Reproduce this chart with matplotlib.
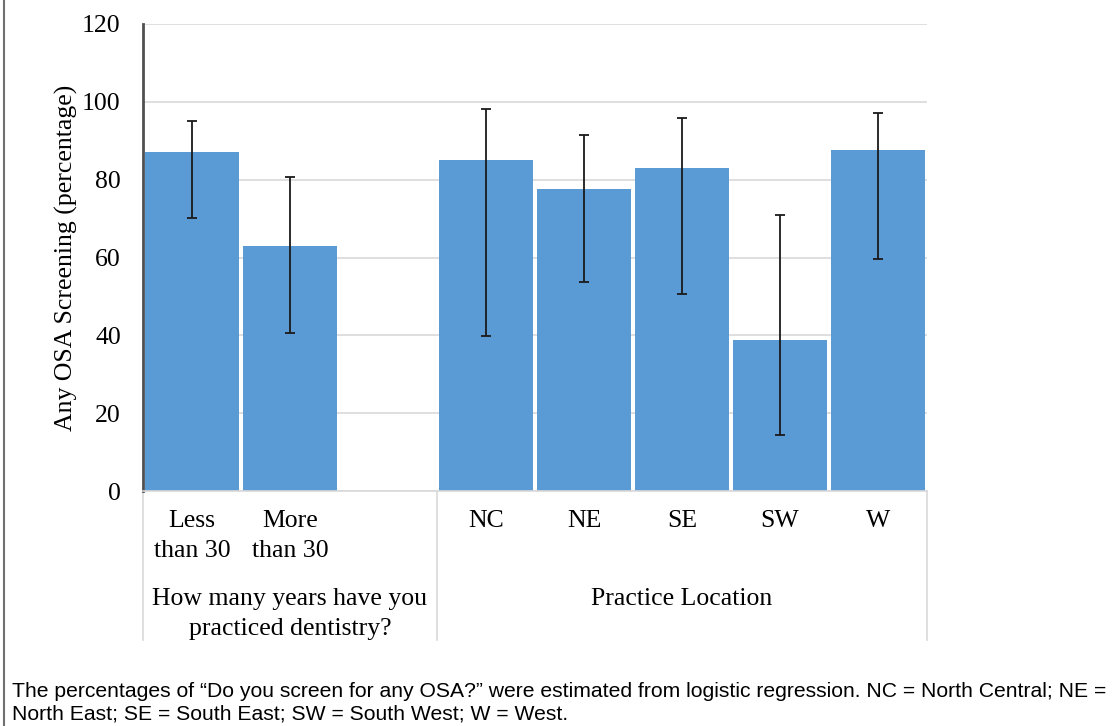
import matplotlib
matplotlib.use("Agg")
import matplotlib.pyplot as plt
from matplotlib.transforms import blended_transform_factory
from matplotlib.lines import Line2D

# Data
categories = ["Less\nthan 30", "More\nthan 30", "", "NC", "NE", "SE", "SW", "W"]
values = [87.0, 63.0, None, 85.0, 77.7, 82.9, 38.7, 87.7]
err_low = [70.2, 40.7, None, 39.9, 53.6, 50.7, 14.3, 59.7]
err_high = [95.1, 80.7, None, 98.2, 91.5, 95.9, 70.9, 97.2]
groups = ["How many years have you\npracticed dentistry?", "Practice Location"]
group_spans = [(0, 2), (3, 7)]
yticks = [0, 20, 40, 60, 80, 100, 120]
ylabel = "Any OSA Screening (percentage)"
caption = ("The percentages of \u201cDo you screen for any OSA?\u201d were estimated from logistic regression. "
           "NC = North Central; NE =\nNorth East; SE = South East; SW = South West; W = West.")

serif = ["Liberation Serif", "DejaVu Serif"]
sans = ["Liberation Sans", "DejaVu Sans"]
FS = 18.5

fig = plt.figure(figsize=(11.15, 7.26), dpi=100)
ax = fig.add_axes([143/1115, 1 - 491/726, 784/1115, 467/726])

xs = [i for i, v in enumerate(values) if v is not None]
vals = [values[i] for i in xs]
lo = [values[i] - err_low[i] for i in xs]
hi = [err_high[i] - values[i] for i in xs]

ax.bar(xs, vals, width=0.95, color="#5B9BD5", zorder=2)
ax.errorbar(xs, vals, yerr=[lo, hi], fmt="none", ecolor="#1a1a1a",
            elinewidth=1.3, capsize=3.5, capthick=1.3, zorder=3)

ax.set_xlim(-0.5, len(categories) - 0.5)
ax.set_ylim(0, 120)
ax.set_yticks(yticks)
ax.set_yticklabels([str(t) for t in yticks], fontfamily=serif, fontsize=FS)
ax.tick_params(axis="y", length=0, pad=16)
ax.set_xticks([])
ax.yaxis.grid(True, color="#d9d9d9", linewidth=1.2, zorder=0)
ax.set_axisbelow(True)
for s in ["top", "right"]:
    ax.spines[s].set_visible(False)
ax.spines["bottom"].set_color("#d9d9d9")
ax.spines["bottom"].set_linewidth(1.2)
ax.spines["left"].set_color("#505050")
ax.spines["left"].set_linewidth(2)

ax.set_ylabel(ylabel, fontfamily=serif, fontsize=FS, labelpad=3)

trans = blended_transform_factory(ax.transData, ax.transAxes)
px = 1 / 467.0
for i, c in enumerate(categories):
    if c:
        ax.text(i, -19 * px, c, transform=trans, ha="center", va="top",
                fontfamily=serif, fontsize=FS, linespacing=1.45)

for (a, b), g in zip(group_spans, groups):
    ax.text((a + b) / 2, -97 * px, g, transform=trans, ha="center", va="top",
            fontfamily=serif, fontsize=FS, linespacing=1.45)

for xb in [-0.5, 2.5, 7.5]:
    ax.plot([xb, xb], [0, -149 * px], transform=trans, color="#d9d9d9",
            linewidth=1.2, clip_on=False)

fig.add_artist(Line2D([4/1115, 4/1115], [0, 1], transform=fig.transFigure,
                      color="#707070", linewidth=1.5))

fig.text(12/1115, 1 - 682/726, caption, ha="left", va="top",
         fontfamily=sans, fontsize=15.2, linespacing=1.2)

fig.savefig("out.png", dpi=100)
